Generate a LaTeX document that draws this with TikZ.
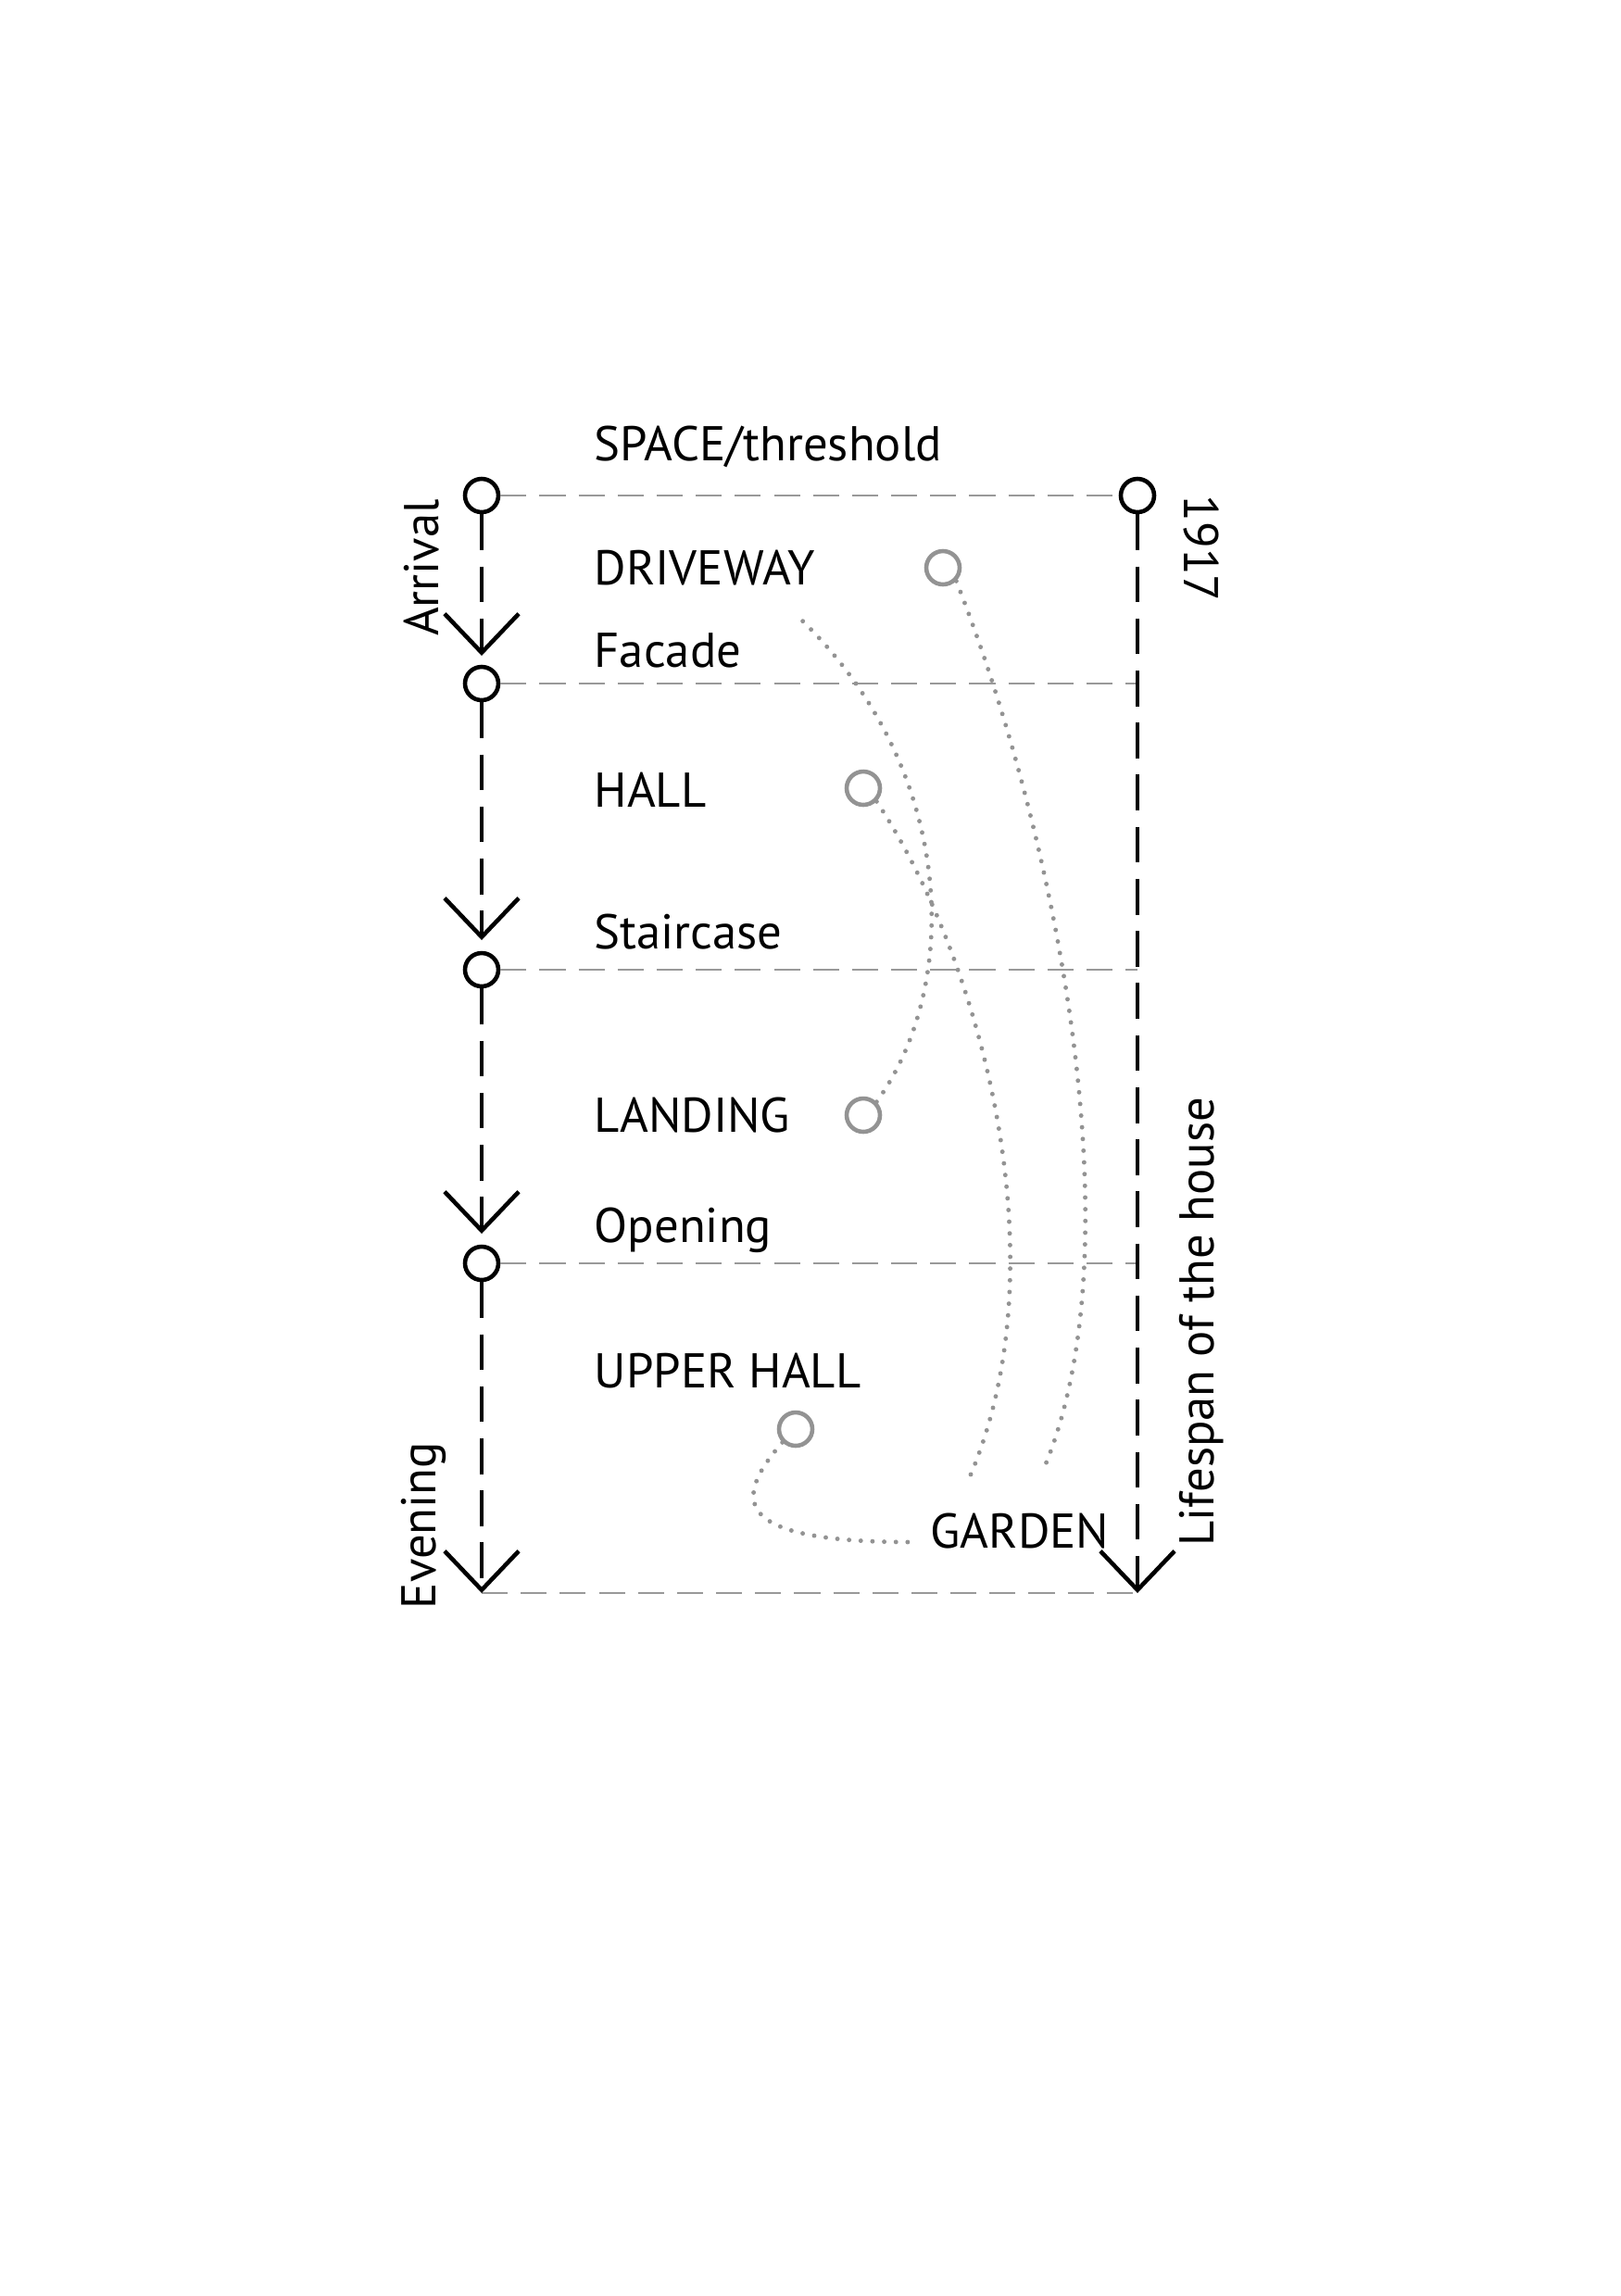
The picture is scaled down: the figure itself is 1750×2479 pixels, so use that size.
\documentclass[tikz,border=0pt]{standalone}
\usepackage{fontspec}
\setmainfont{PT Sans}
\usetikzlibrary{arrows.meta}
\begin{document}
\begin{tikzpicture}[x=0.1mm,y=-0.1mm,
  bc/.style={circle,draw=black,line width=1.3pt,minimum size=3.6mm,inner sep=0pt,fill=white},
  gc/.style={circle,draw=gray!85,line width=1.3pt,minimum size=3.6mm,inner sep=0pt},
  vline/.style={line width=1.3pt,dash pattern=on 11pt off 5pt},
  hline/.style={gray!80,line width=0.45pt,dash pattern=on 8pt off 4pt},
  barb/.style={-{Straight Barb[length=4.2mm,width=8mm,line width=1.3pt]}},
  gbarb/.style={-{Straight Barb[length=4mm,width=7.6mm,line width=1.3pt]}},
  dots/.style={gray!85,line width=1.4pt,line cap=round,dash pattern=on 0pt off 3.6pt},
  lab/.style={anchor=west,font=\fontsize{15}{17}\selectfont,inner sep=0pt},
  rlab/.style={font=\fontsize{15}{17}\selectfont,inner sep=0pt}]
\useasboundingbox (0,0) rectangle (1750,2479);
% black circles
\node[bc] (t) at (520,535) {};
\node[bc] (f) at (520,738) {};
\node[bc] (s) at (520,1047) {};
\node[bc] (o) at (520,1364) {};
\node[bc] (r) at (1228,535) {};
\coordinate (ft) at (520,708);
\coordinate (st) at (520,1015);
\coordinate (ot) at (520,1332);
\coordinate (bl) at (520,1720);
\coordinate (br) at (1228,1720);
\coordinate (fr) at (1228,738);
\coordinate (sr) at (1228,1047);
\coordinate (or) at (1228,1364);
% horizontal lines
\draw[hline] (t.east) -- (r.west);
\draw[hline] (f.east) -- (fr);
\draw[hline] (s.east) -- (sr);
\draw[hline] (o.east) -- (or);
\draw[hline] (bl) -- (br);
% verticals
\draw[vline,barb] (t.south) -- (ft);
\draw[vline,barb] (f.south) -- (st);
\draw[vline,barb] (s.south) -- (ot);
\draw[vline,barb] (o.south) -- (bl);
\draw[vline,barb] (r.south) -- (br);
% labels
\node[lab] (l0) at (641,482) {SPACE/threshold};
\node[lab] (l1) at (641,613) {DRIVEWAY};
\node[lab] (l2) at (641,702) {Facade};
\node[lab] (l3) at (641,853) {HALL};
\node[lab] (l4) at (641,1006) {Staircase};
\node[lab] (l5) at (641,1204) {LANDING};
\node[lab] (l6) at (641,1328) {Opening};
\node[lab] (l7) at (641,1480) {UPPER HALL};
\node[lab] (l8) at (1004,1653) {GARDEN};
\node[rlab,rotate=90] (a1) at (455,613) {Arrival};
\node[rlab,rotate=90] (a2) at (457,1647) {Evening};
\node[rlab,rotate=-90] (a3) at (1297,592) {1917};
\node[rlab,rotate=90] (a4) at (1297,1427) {Lifespan of the house};
% grey circles
\node[gc] (gd) at (1018,613) {};
\node[gc] (gh) at (932,851) {};
\node[gc] (gl) at (932,1204) {};
\node[gc] (gu) at (859,1543) {};
\coordinate (e1) at (1125,1590);
\coordinate (e2) at (1048,1592);
\coordinate (e3) at (866,670);
\coordinate (e4) at (985,1665);
% dotted curves
\draw[dots] (gd.south east) .. controls (1140,900) and (1230,1350) .. (e1);
\draw[gray!85,gbarb,line width=0.01pt,draw opacity=0] (1127,1570) -- (e1);
\draw[dots] (gh.south east) .. controls (1050,1020) and (1150,1350) .. (e2);
\draw[gray!85,gbarb,line width=0.01pt,draw opacity=0] (1050,1570) -- (e2);
\draw[dots] (gl.north east) .. controls (1040,1060) and (1030,830) .. (e3);
\draw[gray!85,gbarb,line width=0.01pt,draw opacity=0] (880,690) -- (e3);
\draw[dots] (gu.south west) .. controls (790,1620) and (790,1665) .. (e4);
\draw[gray!85,gbarb,line width=0.01pt,draw opacity=0] (965,1665) -- (e4);
\end{tikzpicture}
\end{document}
